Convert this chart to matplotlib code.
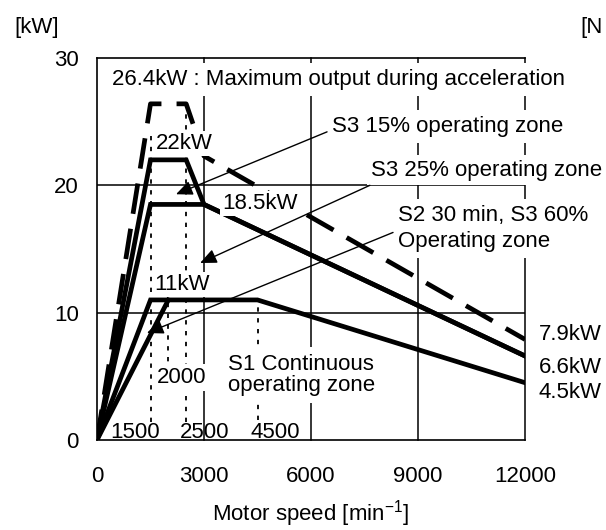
import matplotlib
matplotlib.use("Agg")
import matplotlib.pyplot as plt

plt.rcParams['font.family'] = ['Liberation Sans', 'DejaVu Sans']
plt.rcParams['mathtext.default'] = 'regular'

# output curves: motor speed [min^-1] vs output [kW]
acc_speed = [0, 1500, 2500, 3000, 12000]
acc_kw = [0, 26.4, 26.4, 22.3, 7.9]
s3_15_speed = [0, 1500, 2500, 3000, 12000]
s3_15_kw = [0, 22, 22, 18.5, 6.6]
s3_25_speed = [0, 1500, 3000, 12000]
s3_25_kw = [0, 18.5, 18.5, 6.6]
s1_speed = [0, 1500, 4500, 12000]
s1_kw = [0, 11, 11, 4.5]
s2_speed = [0, 2000]
s2_kw = [0, 11]

# dotted marker lines (speed, bottom kW, top kW)
mark_speed = [1500, 2000, 2500, 4500]
mark_bottom = [1.4, 4.5, 1.4, 1.6]
mark_top = [24, 11, 26, 11]

xticks = [0, 3000, 6000, 9000, 12000]
yticks = [0, 10, 20, 30]

fs = 16
fig = plt.figure(figsize=(6.06, 5.30), dpi=100)
ax = fig.add_axes([97 / 606, 1 - 440 / 530, 428 / 606, 382 / 530])
ax.set_xlim(0, 12000)
ax.set_ylim(0, 30)
ax.set_xticks(xticks)
ax.set_yticks(yticks)
ax.set_xticklabels([str(v) for v in xticks], fontsize=fs)
ax.set_yticklabels([str(v) for v in yticks], fontsize=fs)
ax.tick_params(length=0)
ax.tick_params(axis='x', pad=19)
ax.tick_params(axis='y', pad=13)
for s in ['left', 'bottom', 'top']:
    ax.spines[s].set_linewidth(1.2)
ax.spines['right'].set_visible(False)

# grid
for x in xticks[1:]:
    ax.plot([x, x], [0, 30], color='black', lw=1.1, zorder=1, clip_on=False)
for y in [10, 20]:
    ax.plot([0, 12000], [y, y], color='black', lw=1.1, zorder=1)

for x, b, top in zip(mark_speed, mark_bottom, mark_top):
    ax.plot([x, x], [b, top], color='black', lw=1.3, ls=(0, (2.4, 3.6)), zorder=1)

# curves
lw = 3.4
ax.plot(acc_speed, acc_kw, color='black', lw=lw, ls=(0, (6.5, 3.2)), zorder=3)
ax.plot(s3_15_speed, s3_15_kw, color='black', lw=lw, zorder=3, solid_joinstyle='miter')
ax.plot(s3_25_speed, s3_25_kw, color='black', lw=lw, zorder=3, solid_joinstyle='miter')
ax.plot(s1_speed, s1_kw, color='black', lw=lw, zorder=3, solid_joinstyle='miter')
ax.plot(s2_speed, s2_kw, color='black', lw=lw, zorder=3)


def label(x, y, s, pad=4.5, **kw):
    ax.text(x, y, s, fontsize=fs, ha='left', va='center', zorder=4,
            bbox=dict(facecolor='white', edgecolor='none', pad=pad), **kw)


label(420, 28.3, '26.4kW : Maximum output during acceleration')
label(6590, 24.6, 'S3 15% operating zone')
label(7680, 21.2, 'S3 25% operating zone', pad=3)
label(8440, 16.6, 'S2 30 min, S3 60%\nOperating zone', linespacing=1.3)
label(3670, 5.1, 'S1 Continuous\noperating zone', linespacing=1.05)
label(1650, 23.3, '22kW', pad=1.5)
label(3500, 18.6, '18.5kW', pad=1.5)
label(1600, 12.25, '11kW', pad=1.5)
label(1680, 4.9, '2000', pad=2)

for x, s in [(365, '1500'), (2330, '2500'), (4290, '4500')]:
    ax.text(x, 0.6, s, fontsize=fs, ha='left', va='center', zorder=4)

for y, s in [(8.3, '7.9kW'), (5.7, '6.6kW'), (3.7, '4.5kW')]:
    ax.text(12390, y, s, fontsize=fs, ha='left', va='center', clip_on=False)

# arrows
arr = dict(arrowstyle='-|>,head_length=0.5,head_width=0.22', lw=1.0,
           color='black', mutation_scale=20, shrinkA=0, shrinkB=0)
ax.annotate('', xy=(2215, 19.3), xytext=(6450, 24.2), arrowprops=arr, zorder=5)
ax.annotate('', xy=(2890, 13.9), xytext=(7650, 20.0), arrowprops=arr, zorder=5)
ax.annotate('', xy=(1400, 8.4), xytext=(8300, 16.3), arrowprops=arr, zorder=5)

fig.text(37 / 606, 1 - 27 / 530, '[kW]', fontsize=fs, ha='center', va='center')
fig.text(580 / 606, 1 - 27 / 530, '[N', fontsize=fs, ha='left', va='center')
fig.text(311 / 606, 1 - 514 / 530, 'Motor speed [min$^{-1}$]', fontsize=fs,
         ha='center', va='center')

fig.savefig('out.png', dpi=100, facecolor='white')
